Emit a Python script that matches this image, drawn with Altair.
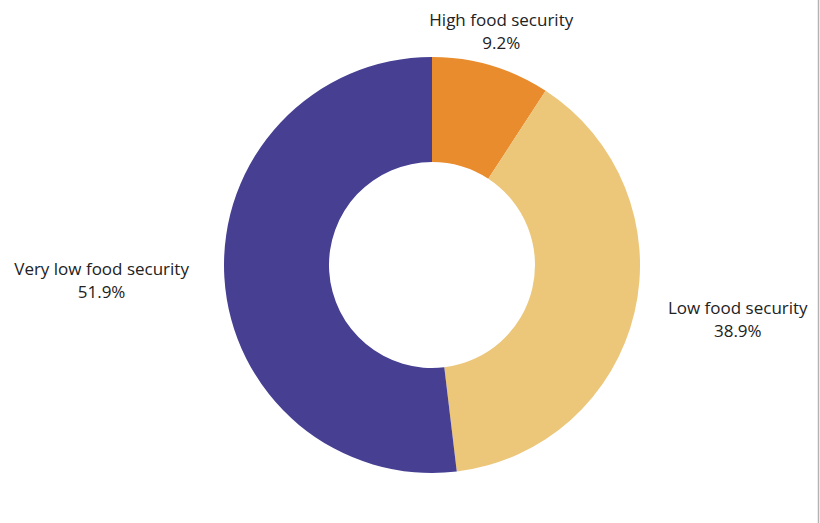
import altair as alt
import pandas as pd

categories = ["High food security", "Low food security", "Very low food security"]
values = [9.2, 38.9, 51.9]
colors = ["#E98C2D", "#ECC679", "#463F92"]

df = pd.DataFrame({
    "category": categories,
    "value": values,
    "idx": list(range(len(categories))),
})
df["label"] = df["category"] + "\n" + df["value"].map(lambda v: f"{v:.1f}%")

CX, CY = 432, 265
theta_scale = alt.Scale(domain=[0, 100], range=[0, 6.283185307179586])

arcs = alt.Chart(df).mark_arc(outerRadius=208, innerRadius=103).encode(
    theta=alt.Theta("value:Q", stack=True, scale=theta_scale),
    order=alt.Order("idx:Q"),
    x=alt.value(CX),
    y=alt.value(CY),
    color=alt.Color("category:N", scale=alt.Scale(domain=categories, range=colors), legend=None),
)

def label_layer(cat, radius, dx=0, dy=0):
    return alt.Chart(df).transform_window(
        cum="sum(value)", sort=[alt.SortField("idx")]
    ).transform_calculate(
        mid="datum.cum - datum.value / 2"
    ).transform_filter(alt.datum.category == cat).mark_text(
        radius=radius, dx=dx, dy=dy, lineBreak="\n", font="Open Sans", fontSize=17,
        lineHeight=23, color="#222222", align="center", baseline="middle"
    ).encode(
        theta=alt.Theta("mid:Q", stack=None, scale=theta_scale),
        x=alt.value(CX),
        y=alt.value(CY),
        text="label:N",
    )

labels = (
    label_layer(categories[0], 243, dy=-11)
    + label_layer(categories[1], 314, dy=-27)
    + label_layer(categories[2], 331, dy=-15)
)

border = alt.Chart(df).mark_rule(color="#b3b3b3", strokeWidth=1.5).encode(
    x=alt.value(818.5), y=alt.value(0), y2=alt.value(523)
).transform_filter(alt.datum.idx == 0)

chart = alt.layer(arcs, labels, border).properties(
    width=820, height=523, padding=0, autosize="none", background="white"
).configure_view(stroke=None)

chart.save("out.html", embed_options={"renderer": "svg", "actions": False})
